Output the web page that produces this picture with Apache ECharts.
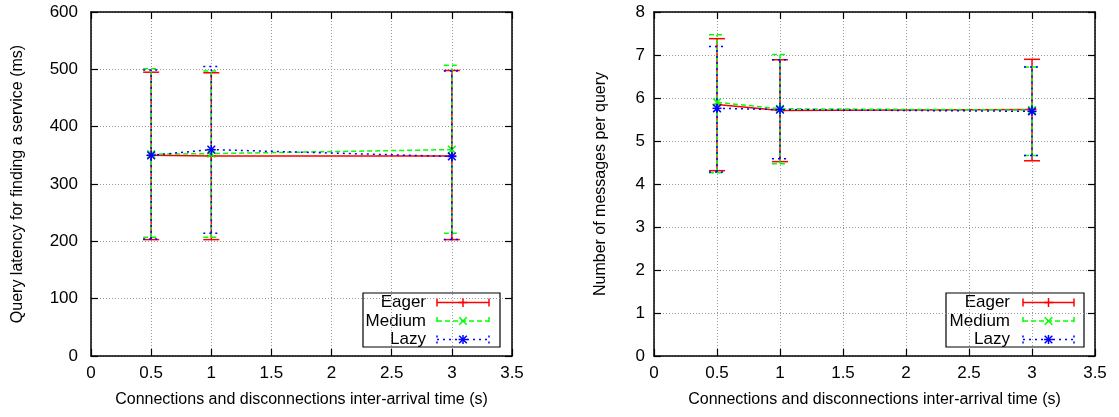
<!DOCTYPE html>
<html><head><meta charset="utf-8">
<script src="https://cdn.jsdelivr.net/npm/echarts@6/dist/echarts.min.js"></script>
<style>html,body{margin:0;padding:0;background:#fff}#c{width:1119px;height:417px}</style>
</head><body><div id="c"></div>
<script>
// ---- data ----
const xValues = [0.5, 1, 3];
const seriesNames = ['Eager', 'Medium', 'Lazy'];

const latencyEagerMean = [350, 349, 349];
const latencyEagerLow = [203, 203, 203];
const latencyEagerHigh = [495, 494, 498];
const latencyMediumMean = [352, 353, 360];
const latencyMediumLow = [207, 207, 214];
const latencyMediumHigh = [501, 497, 507];
const latencyLazyMean = [350, 360, 348];
const latencyLazyLow = [204, 214, 203];
const latencyLazyHigh = [499, 505, 497];

const msgEagerMean = [5.85, 5.71, 5.73];
const msgEagerLow = [4.31, 4.52, 4.54];
const msgEagerHigh = [7.38, 6.89, 6.90];
const msgMediumMean = [5.90, 5.75, 5.72];
const msgMediumLow = [4.26, 4.47, 4.66];
const msgMediumHigh = [7.47, 7.01, 6.72];
const msgLazyMean = [5.76, 5.73, 5.69];
const msgLazyLow = [4.28, 4.59, 4.66];
const msgLazyHigh = [7.20, 6.89, 6.72];

const xTickLabels = ['0', '0.5', '1', '1.5', '2', '2.5', '3', '3.5'];
const latencyTickLabels = ['0', '100', '200', '300', '400', '500', '600'];
const msgTickLabels = ['0', '1', '2', '3', '4', '5', '6', '7', '8'];

const xTitle = 'Connections and disconnections inter-arrival time (s)';
const latencyTitle = 'Query latency for finding a service (ms)';
const msgTitle = 'Number of messages per query';

// ---- styles ----
const FONT = 'Liberation Sans';
const colors = ['#ff0000', '#00ff00', '#0000ff'];
const dashes = [null, [5, 3], [2, 4]];
const markers = ['plus', 'cross', 'star'];
const CAP = 8, MK = 4.5, LW = 1.5;

const G1 = {left: 91, top: 12, width: 421, height: 344};
const G2 = {left: 654, top: 12, width: 441, height: 344};

function markerEls(kind, x, y, color) {
  const st = {stroke: color, lineWidth: LW};
  const els = [];
  if (kind === 'plus' || kind === 'star') {
    els.push({type: 'line', shape: {x1: x - MK, y1: y, x2: x + MK, y2: y}, style: st});
    els.push({type: 'line', shape: {x1: x, y1: y - MK, x2: x, y2: y + MK}, style: st});
  }
  if (kind === 'cross' || kind === 'star') {
    const d = MK * 0.85;
    els.push({type: 'line', shape: {x1: x - d, y1: y - d, x2: x + d, y2: y + d}, style: st});
    els.push({type: 'line', shape: {x1: x - d, y1: y + d, x2: x + d, y2: y - d}, style: st});
  }
  return els;
}

function errRender(i) {
  return function (params, api) {
    const x = api.value(0), m = api.value(1), lo = api.value(2), hi = api.value(3);
    const pm = api.coord([x, m]), pl = api.coord([x, lo]), ph = api.coord([x, hi]);
    const st = {stroke: colors[i], lineWidth: LW, lineDash: dashes[i]};
    const children = [
      {type: 'line', shape: {x1: pl[0], y1: pl[1], x2: ph[0], y2: ph[1]}, style: st},
      {type: 'line', shape: {x1: pl[0] - CAP, y1: pl[1], x2: pl[0] + CAP, y2: pl[1]}, style: st},
      {type: 'line', shape: {x1: ph[0] - CAP, y1: ph[1], x2: ph[0] + CAP, y2: ph[1]}, style: st}
    ].concat(markerEls(markers[i], pm[0], pm[1], colors[i]));
    return {type: 'group', children: children};
  };
}

function rows(mean, low, high) {
  return xValues.map((x, k) => [x, mean[k], low[k], high[k]]);
}

const latencySets = [
  [latencyEagerMean, latencyEagerLow, latencyEagerHigh],
  [latencyMediumMean, latencyMediumLow, latencyMediumHigh],
  [latencyLazyMean, latencyLazyLow, latencyLazyHigh]
];
const msgSets = [
  [msgEagerMean, msgEagerLow, msgEagerHigh],
  [msgMediumMean, msgMediumLow, msgMediumHigh],
  [msgLazyMean, msgLazyLow, msgLazyHigh]
];

const series = [];
[[latencySets, 0, 0], [msgSets, 2, 2]].forEach(([sets, xi, yi]) => {
  sets.forEach((s, i) => {
    series.push({
      type: 'line', name: seriesNames[i], xAxisIndex: xi, yAxisIndex: yi,
      data: xValues.map((x, k) => [x, s[0][k]]),
      showSymbol: false, symbol: 'none', silent: true, z: 3,
      lineStyle: {color: colors[i], width: LW, type: dashes[i] || 'solid'}
    });
  });
  sets.forEach((s, i) => {
    series.push({
      type: 'custom', xAxisIndex: xi, yAxisIndex: yi, clip: false, silent: true, z: 4,
      data: rows(s[0], s[1], s[2]),
      renderItem: errRender(i)
    });
  });
});

const axisLineStyle = {color: '#000', width: 1.5};
const tickStyle = {show: true, inside: true, length: 7, lineStyle: {color: '#000', width: 1.2}};
const splitStyle = {show: true, lineStyle: {color: '#999', width: 1, type: [1, 2]}};
const labelStyle = {color: '#000', fontSize: 17, fontFamily: FONT};

function xAxes(gi) {
  return [
    {gridIndex: gi, type: 'value', min: 0, max: 3.5, interval: 0.5, position: 'bottom',
     axisLine: {show: true, lineStyle: axisLineStyle}, axisTick: tickStyle,
     splitLine: splitStyle,
     axisLabel: Object.assign({margin: 9, formatter: v => xTickLabels[Math.round(v / 0.5)]}, labelStyle),
     name: xTitle, nameLocation: 'middle', nameGap: 36,
     nameTextStyle: {color: '#000', fontSize: 16, fontFamily: FONT}},
    {gridIndex: gi, type: 'value', min: 0, max: 3.5, interval: 0.5, position: 'top',
     axisLine: {show: true, onZero: false, lineStyle: axisLineStyle}, axisTick: tickStyle,
     splitLine: {show: false}, axisLabel: {show: false}}
  ];
}
function yAxes(gi, max, labels, title, margin, gap) {
  return [
    {gridIndex: gi, type: 'value', min: 0, max: max, interval: max / (labels.length - 1), position: 'left',
     axisLine: {show: true, lineStyle: axisLineStyle}, axisTick: tickStyle,
     splitLine: splitStyle,
     axisLabel: Object.assign({margin: margin, formatter: v => labels[Math.round(v / (max / (labels.length - 1)))]}, labelStyle),
     name: title, nameLocation: 'middle', nameGap: gap, nameRotate: 90,
     nameTextStyle: {color: '#000', fontSize: 16, fontFamily: FONT}},
    {gridIndex: gi, type: 'value', min: 0, max: max, interval: max / (labels.length - 1), position: 'right',
     axisLine: {show: true, onZero: false, lineStyle: axisLineStyle}, axisTick: tickStyle,
     splitLine: {show: false}, axisLabel: {show: false}}
  ];
}

function legendGraphic(box, textRight, s0, s1) {
  const children = [{type: 'rect', shape: {x: box.x, y: box.y, width: box.w, height: box.h},
    style: {fill: '#fff', stroke: '#000', lineWidth: 1.2}}];
  const rowY = [9.5, 28, 46.5];
  seriesNames.forEach((n, i) => {
    const y = box.y + rowY[i];
    const x0 = box.x + s0, x1 = box.x + s1, xm = (x0 + x1) / 2;
    const st = {stroke: colors[i], lineWidth: LW, lineDash: dashes[i]};
    children.push({type: 'text', x: box.x + textRight, y: y,
      style: {text: n, fill: '#000', fontSize: 17, fontFamily: FONT, align: 'right', verticalAlign: 'middle'}});
    children.push({type: 'line', shape: {x1: x0, y1: y, x2: x1, y2: y}, style: st});
    children.push({type: 'line', shape: {x1: x0, y1: y - 4, x2: x0, y2: y + 4}, style: st});
    children.push({type: 'line', shape: {x1: x1, y1: y - 4, x2: x1, y2: y + 4}, style: st});
    markerEls(markers[i], xm, y, colors[i]).forEach(e => children.push(e));
  });
  return {type: 'group', children: children, z: 100};
}

const option = {
  animation: false,
  backgroundColor: '#fff',
  grid: [G1, G2],
  xAxis: xAxes(0).concat(xAxes(1)),
  yAxis: yAxes(0, 600, latencyTickLabels, latencyTitle, 13, 65).concat(yAxes(1, 8, msgTickLabels, msgTitle, 9, 45)),
  series: series,
  graphic: [
    legendGraphic({x: 363, y: 293, w: 137, h: 54}, 63, 74, 126),
    legendGraphic({x: 946, y: 293, w: 138, h: 54}, 64, 77, 128)
  ]
};

const chart = echarts.init(document.getElementById('c'), null, {renderer: 'canvas'});
chart.setOption(option);
</script>
</body></html>
